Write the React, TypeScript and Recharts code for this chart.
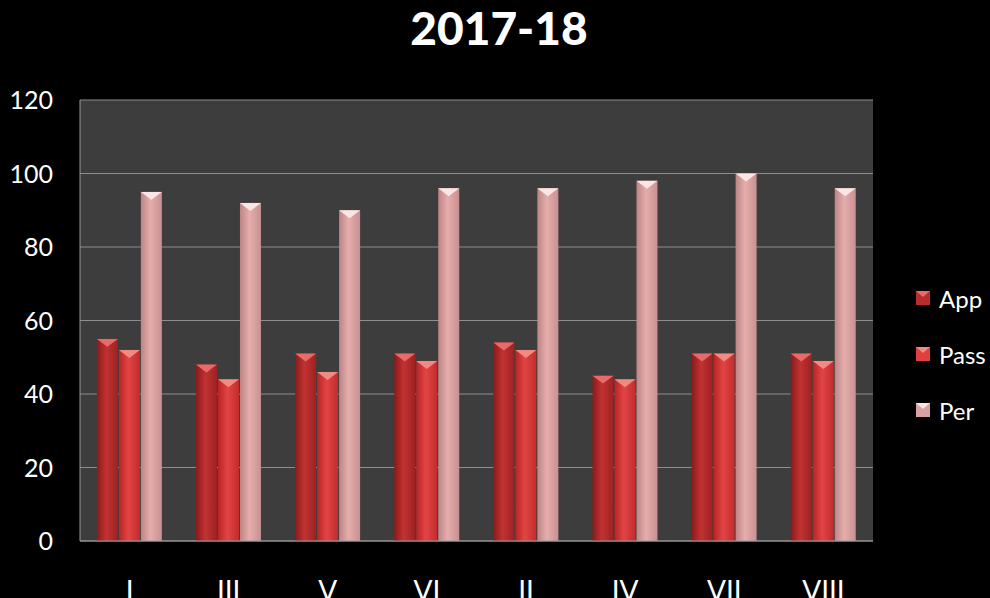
import React from 'react';
import { BarChart, Bar, XAxis, YAxis, CartesianGrid } from 'recharts';

// values
const classes = ['I', 'III', 'V', 'VI', 'II', 'IV', 'VII', 'VIII'];
const appValues = [55, 48, 51, 51, 54, 45, 51, 51];
const passValues = [52, 44, 46, 49, 52, 44, 51, 49];
const perValues = [95, 92, 90, 96, 96, 98, 100, 96];
const yTicks = [0, 20, 40, 60, 80, 100, 120];

const data = classes.map((name, i) => ({
  name,
  App: appValues[i],
  Pass: passValues[i],
  Per: perValues[i],
}));

const series = [
  { key: 'App', grad: 'gApp', cap: '#e86a6a', swatch: '#b82c2c' },
  { key: 'Pass', grad: 'gPass', cap: '#f28a84', swatch: '#de4040' },
  { key: 'Per', grad: 'gPer', cap: '#fbe6e6', swatch: '#d9a2a2' },
];

const FONT = 'Lato, "Open Sans", sans-serif';

const makeShape = (grad: string, cap: string) => (props: any) => {
  const { x, y, width, height } = props;
  if (height <= 0) return null;
  const capH = Math.min(width * 0.38, height);
  return (
    <g>
      <rect x={x} y={y} width={width} height={height} fill={`url(#${grad})`} />
      <polygon
        points={`${x},${y} ${x + width},${y} ${x + width / 2},${y + capH}`}
        fill={cap}
      />
    </g>
  );
};

const YTick = (props: any) => {
  const { x, y, payload } = props;
  return (
    <text x={x} y={y} dy={9} textAnchor="end" fill="#fff" fontSize={25} fontFamily={FONT}>
      {payload.value}
    </text>
  );
};

const XTick = (props: any) => {
  const { x, y, payload } = props;
  return (
    <text x={x} y={y} dy={58} textAnchor="middle" fill="#fff" fontSize={28} fontFamily={FONT}>
      {payload.value}
    </text>
  );
};

const LegendBox = () => (
  <div style={{ position: 'absolute', left: 916, top: 270, fontFamily: FONT }}>
    {series.map((s) => (
      <div key={s.key} style={{ display: 'flex', alignItems: 'center', height: 56, color: '#fff', fontSize: 24 }}>
        <svg width={14} height={14} style={{ marginRight: 9 }}>
          <rect x={0} y={0} width={14} height={14} fill={s.swatch} />
          <polygon points="0,0 14,0 7,6" fill={s.cap} />
        </svg>
        <span>{s.key}</span>
      </div>
    ))}
  </div>
);

const App: React.FC = () => {
  return (
    <div style={{ position: 'absolute', left: 0, top: 0, width: 990, height: 598, background: '#000', overflow: 'hidden' }}>
      <div
        style={{
          position: 'absolute',
          top: 0,
          left: 0,
          width: 998,
          textAlign: 'center',
          color: '#fff',
          fontFamily: FONT,
          fontWeight: 900,
          fontSize: 46,
        }}
      >
        2017-18
      </div>
      <BarChart
        width={990}
        height={598}
        data={data}
        margin={{ top: 100, right: 117, bottom: 0, left: 0 }}
        barGap={1}
        barCategoryGap="17%"
      >
        <defs>
          <linearGradient id="gApp" x1="0" y1="0" x2="1" y2="0">
            <stop offset="0%" stopColor="#8a1a1a" />
            <stop offset="45%" stopColor="#c23232" />
            <stop offset="100%" stopColor="#9c2222" />
          </linearGradient>
          <linearGradient id="gPass" x1="0" y1="0" x2="1" y2="0">
            <stop offset="0%" stopColor="#b82424" />
            <stop offset="45%" stopColor="#e24444" />
            <stop offset="100%" stopColor="#c22c2c" />
          </linearGradient>
          <linearGradient id="gPer" x1="0" y1="0" x2="1" y2="0">
            <stop offset="0%" stopColor="#bc8484" />
            <stop offset="45%" stopColor="#e6adad" />
            <stop offset="100%" stopColor="#c89090" />
          </linearGradient>
        </defs>
        <CartesianGrid vertical={false} stroke="#8e8e8e" fill="#3d3d3d" />
        <XAxis
          dataKey="name"
          height={57}
          tickLine={false}
          tickSize={0}
          axisLine={{ stroke: '#9a9a9a' }}
          tick={<XTick />}
        />
        <YAxis
          width={80}
          domain={[0, 120]}
          ticks={yTicks}
          tickLine={false}
          tickSize={0}
          tickMargin={27}
          axisLine={{ stroke: '#9a9a9a' }}
          tick={<YTick />}
        />
        {series.map((s) => (
          <Bar
            key={s.key}
            dataKey={s.key}
            isAnimationActive={false}
            shape={makeShape(s.grad, s.cap)}
          />
        ))}
      </BarChart>
      <LegendBox />
    </div>
  );
};

export default App;
